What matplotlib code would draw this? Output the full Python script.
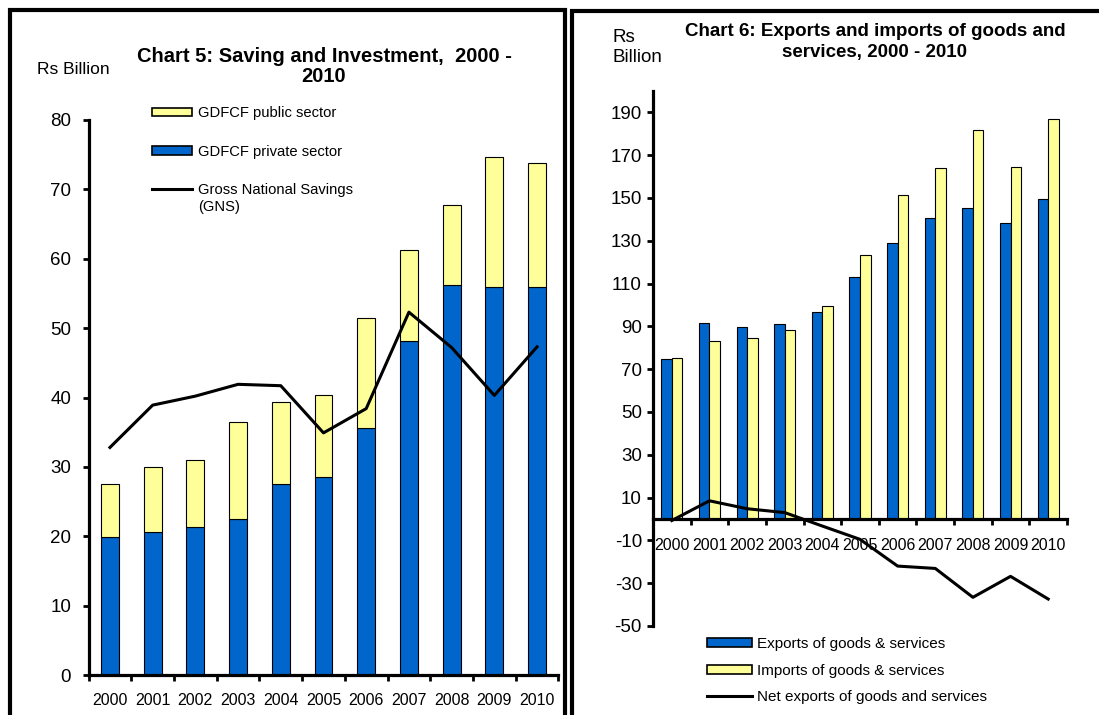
import matplotlib
matplotlib.use("Agg")
import matplotlib.pyplot as plt
import numpy as np
from matplotlib.patches import Rectangle, Patch
from matplotlib.legend_handler import HandlerLine2D

plt.rcParams['font.family'] = ['Liberation Sans', 'DejaVu Sans']
plt.rcParams['axes.unicode_minus'] = False

# ---- data (Rs Billion) ----
years = ['2000', '2001', '2002', '2003', '2004', '2005',
         '2006', '2007', '2008', '2009', '2010']

# Chart 5: saving and investment
gdfcf_private = [19.9, 20.6, 21.3, 22.5, 27.6, 28.6, 35.6, 48.2, 56.2, 55.9, 55.9]
gdfcf_public = [7.6, 9.4, 9.7, 13.9, 11.7, 11.7, 15.9, 13.0, 11.5, 18.7, 17.9]
gns = [32.8, 38.9, 40.2, 41.9, 41.7, 34.9, 38.4, 52.3, 47.2, 40.3, 47.3]

# Chart 6: external trade
exports = [74.6, 91.7, 89.5, 90.9, 96.7, 113.1, 129.0, 140.8, 145.2, 138.2, 149.6]
imports = [75.3, 83.1, 84.4, 88.1, 99.4, 123.3, 151.6, 163.8, 181.7, 164.6, 186.7]
net_exports = [-0.7, 8.5, 4.8, 3.0, -3.3, -9.5, -22.0, -23.1, -36.6, -26.8, -37.4]

BLUE = '#0066CC'
YELLOW = '#FFFF99'

W, H = 1099, 715
fig = plt.figure(figsize=(W / 100, H / 100), dpi=100)


def fx(px):
    return px / W


def fy(py):
    return 1 - py / H


def box(x0, y0, x1, y1):
    return [fx(x0), fy(y1), fx(x1) - fx(x0), fy(y0) - fy(y1)]


def style_axes(ax, n):
    for s in ('top', 'right'):
        ax.spines[s].set_visible(False)
    for s in ('left', 'bottom'):
        ax.spines[s].set_linewidth(2.3)
        ax.spines[s].set_color('black')
    ax.set_xlim(-0.5, n - 0.5)
    ax.set_xticks(np.arange(n))
    ax.set_xticks(np.arange(n + 1) - 0.5, minor=True)
    ax.tick_params(axis='x', which='minor', length=4.5, width=2, direction='out')
    ax.tick_params(axis='y', which='major', length=4.5, width=2, direction='out')
    ax.set_facecolor('none')


class FirstLineHandler(HandlerLine2D):
    """Line handle aligned with the first line of a two-line label."""

    def create_artists(self, legend, orig_handle, xdescent, ydescent,
                       width, height, fontsize, trans):
        arts = super().create_artists(legend, orig_handle, xdescent, ydescent,
                                      width, height, fontsize, trans)
        for a in arts:
            a.set_ydata(np.asarray(a.get_ydata()) + 0.72 * fontsize)
        return arts


# panel frames
fig.add_artist(Rectangle((fx(10), fy(760)), fx(565) - fx(10), fy(10) - fy(760),
                         transform=fig.transFigure, fill=False, lw=3.0,
                         edgecolor='black', clip_on=False))
fig.add_artist(Rectangle((fx(572), fy(760)), fx(1140) - fx(572), fy(11) - fy(760),
                         transform=fig.transFigure, fill=False, lw=3.0,
                         edgecolor='black', clip_on=False))

x = np.arange(len(years))

# ---------------- Chart 5 ----------------
ax1 = fig.add_axes(box(88.6, 120, 558.4, 675))
style_axes(ax1, len(years))
ax1.set_ylim(0, 80)
ax1.set_yticks(np.arange(0, 81, 10))
b_priv = ax1.bar(x, gdfcf_private, width=0.42, color=BLUE, edgecolor='black',
                 linewidth=0.8, zorder=2)
b_pub = ax1.bar(x, gdfcf_public, bottom=gdfcf_private, width=0.42, color=YELLOW,
                edgecolor='black', linewidth=0.8, zorder=2)
l_gns, = ax1.plot(x, gns, color='black', lw=2.2, zorder=3)
ax1.set_xticklabels(years, fontsize=11.5)
ax1.tick_params(axis='x', which='major', length=0, pad=13)
ax1.tick_params(axis='y', labelsize=13.5, pad=8)

fig.text(fx(37), fy(70), 'Rs Billion', fontsize=12.5, ha='left', va='center')
fig.text(fx(324), fy(57), 'Chart 5: Saving and Investment,  2000 -',
         fontsize=14.5, fontweight='bold', ha='center', va='center')
fig.text(fx(324), fy(77), '2010', fontsize=14.5, fontweight='bold',
         ha='center', va='center')

h_pub = Patch(facecolor=YELLOW, edgecolor='black', linewidth=1.2)
h_priv = Patch(facecolor=BLUE, edgecolor='black', linewidth=1.2)
leg1 = ax1.legend([h_pub, h_priv, l_gns],
                  ['GDFCF public sector', 'GDFCF private sector',
                   'Gross National Savings\n(GNS)'],
                  handler_map={l_gns: FirstLineHandler()},
                  loc='upper left', bbox_to_anchor=(fx(152), fy(106)),
                  bbox_transform=fig.transFigure, frameon=False, fontsize=10.6,
                  borderpad=0, borderaxespad=0, handlelength=2.75,
                  handleheight=0.5, handletextpad=0.35, labelspacing=1.68)

# ---------------- Chart 6 ----------------
ax2 = fig.add_axes(box(653, 91, 1067, 626))
style_axes(ax2, len(years))
ax2.spines['bottom'].set_position(('data', 0))
ax2.set_ylim(-50, 200)
ax2.set_yticks(np.arange(-50, 191, 20))
bw = 0.28
b_exp = ax2.bar(x - bw / 2, exports, width=bw, color=BLUE, edgecolor='black',
                linewidth=0.8, zorder=2)
b_imp = ax2.bar(x + bw / 2, imports, width=bw, color=YELLOW, edgecolor='black',
                linewidth=0.8, zorder=2)
l_net, = ax2.plot(x, net_exports, color='black', lw=2.2, zorder=3)
ax2.set_xticklabels(years, fontsize=11.5)
ax2.tick_params(axis='x', which='major', length=0, pad=13.5)
ax2.tick_params(axis='y', labelsize=13.5, pad=3.5)

fig.text(fx(612), fy(38), 'Rs', fontsize=13.5, ha='left', va='center')
fig.text(fx(612), fy(58), 'Billion', fontsize=13.5, ha='left', va='center')
fig.text(fx(875), fy(32), 'Chart 6: Exports and imports of goods and',
         fontsize=13.5, fontweight='bold', ha='center', va='center')
fig.text(fx(875), fy(52), 'services, 2000 - 2010', fontsize=13.5,
         fontweight='bold', ha='center', va='center')

h_exp = Patch(facecolor=BLUE, edgecolor='black', linewidth=1.2)
h_imp = Patch(facecolor=YELLOW, edgecolor='black', linewidth=1.2)
leg2 = ax2.legend([h_exp, h_imp, l_net],
                  ['Exports of goods & services', 'Imports of goods & services',
                   'Net exports of goods and services'],
                  loc='upper left', bbox_to_anchor=(fx(707), fy(637)),
                  bbox_transform=fig.transFigure, frameon=False, fontsize=11,
                  borderpad=0, borderaxespad=0, handlelength=2.95,
                  handleheight=0.55, handletextpad=0.33, labelspacing=0.82)

fig.savefig('out.png', dpi=100)
